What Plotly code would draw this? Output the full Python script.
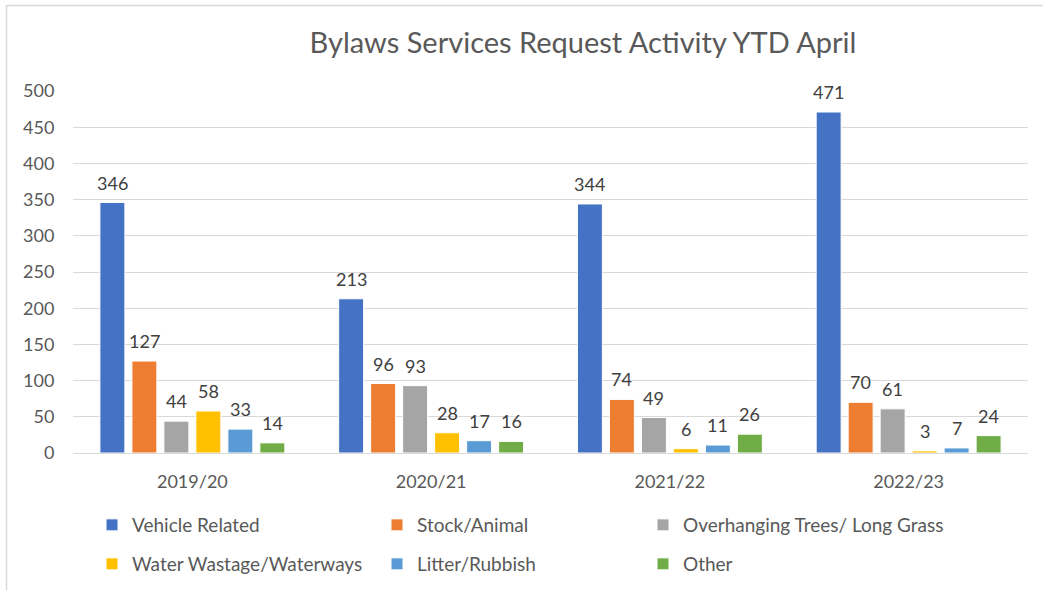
import plotly.graph_objects as go

categories = ["2019/20", "2020/21", "2021/22", "2022/23"]
series_names = ["Vehicle Related", "Stock/Animal", "Overhanging Trees/ Long Grass",
                "Water Wastage/Waterways", "Litter/Rubbish", "Other"]
vehicle = [346, 213, 344, 471]
stock = [127, 96, 74, 70]
trees = [44, 93, 49, 61]
water = [58, 28, 6, 3]
litter = [33, 17, 11, 7]
other = [14, 16, 26, 24]
colors = ["#4472C4", "#ED7D31", "#A5A5A5", "#FFC000", "#5B9BD5", "#70AD47"]
y_ticks = [0, 50, 100, 150, 200, 250, 300, 350, 400, 450, 500]

FONT = "Lato"
values = [vehicle, stock, trees, water, litter, other]

BARGAP = 0.196
BARGROUPGAP = 0.22

legend_ids = ["legend", "legend2", "legend3", "legend4", "legend5", "legend6"]

fig = go.Figure()
for i, (name, vals, col) in enumerate(zip(series_names, values, colors)):
    fig.add_trace(go.Bar(
        name=name, x=categories, y=vals,
        marker=dict(color=col, line=dict(color="white", width=1)),
        legend=legend_ids[i], showlegend=True,
    ))

# data labels above each bar (positioned through the category / value axes)
n = len(values)
slot = (1 - BARGAP) / n
annotations = []
for j, vals in enumerate(values):
    for ci, v in enumerate(vals):
        annotations.append(dict(
            x=ci - (1 - BARGAP) / 2 + (j + 0.5) * slot, y=v,
            xref="x", yref="y", text=str(v), showarrow=False,
            yanchor="bottom", yshift=7,
            font=dict(family=FONT, size=18, color="#404040"),
        ))

W, H = 1043, 590
L, R, T, B = 73, 15, 91, 137
pw = W - L - R
ph = H - T - B

legend_common = dict(orientation="h", xref="container", yref="container",
                     xanchor="left", yanchor="middle",
                     font=dict(family=FONT, size=19, color="#595959"),
                     bgcolor="rgba(0,0,0,0)")
# legend item positions (symbol x, row y) in pixels
leg_x = [107, 392, 658, 107, 392, 658]
leg_y = [525, 525, 525, 564, 564, 564]
legends = {lid: dict(legend_common, x=(lx - 15) / W, y=1 - ly / H)
           for lid, lx, ly in zip(legend_ids, leg_x, leg_y)}

fig.update_layout(
    width=W, height=H,
    margin=dict(l=L, r=R, t=T, b=B, autoexpand=False),
    paper_bgcolor="white", plot_bgcolor="white",
    showlegend=True,
    barmode="group", bargap=BARGAP, bargroupgap=BARGROUPGAP,
    font=dict(family=FONT, color="#595959"),
    title=dict(text="Bylaws Services Request Activity YTD April",
               font=dict(family=FONT, size=29, color="#595959"),
               x=583 / W, xanchor="center", y=1 - 43 / H, yanchor="middle"),
    xaxis=dict(showgrid=False, showline=False, zeroline=False,
               ticks="outside", ticklen=12, tickcolor="rgba(0,0,0,0)",
               tickfont=dict(family=FONT, size=18, color="#595959")),
    yaxis=dict(range=[0, 500], tickvals=y_ticks, showgrid=True, gridcolor="#D9D9D9",
               gridwidth=1, zeroline=True, zerolinecolor="#D9D9D9", zerolinewidth=1,
               showline=False, ticks="outside", ticklen=14, tickcolor="rgba(0,0,0,0)",
               tickfont=dict(family=FONT, size=18, color="#595959")),
    annotations=annotations,
    shapes=[
        dict(type="line", xref="paper", yref="paper",
             x0=(6.5 - L) / pw, x1=(6.5 - L) / pw, y0=(H - B - 600) / ph, y1=(H - B - 5.5) / ph,
             line=dict(color="#D9D9D9", width=1.5), layer="below"),
        dict(type="line", xref="paper", yref="paper",
             x0=(6.5 - L) / pw, x1=(1050 - L) / pw, y0=(H - B - 5.5) / ph, y1=(H - B - 5.5) / ph,
             line=dict(color="#D9D9D9", width=1.5), layer="below"),
    ],
    **legends,
)

fig.write_html("out.html", config={"displayModeBar": False},
               post_script="document.body.style.margin='0';")
